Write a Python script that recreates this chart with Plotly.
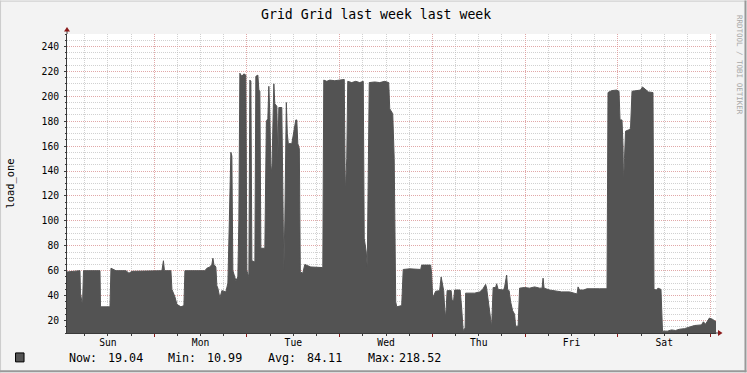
import plotly.graph_objects as go

# ---------------- data ----------------
# time in hours since Sunday 00:00, value = load_one
hours = [1.42, 4.53, 4.78, 4.91, 5.17, 5.43, 5.69, 9.96, 10.09, 12.54, 12.80, 14.09, 16.68, 17.46, 18.23,
         25.99, 26.38, 26.64, 28.32, 28.58, 29.35, 29.87, 30.90, 31.68, 31.94, 37.11, 37.63, 38.40, 38.92,
         39.18, 39.44, 39.95, 40.21, 40.47, 40.99, 41.51, 42.54, 43.06, 43.44, 43.83, 44.09, 44.35, 45.13,
         45.64, 45.90, 46.16, 46.68, 47.20, 47.71, 47.97, 48.49, 48.75, 49.01, 49.27, 50.05, 50.30, 50.82,
         51.08, 51.34, 51.60, 52.63, 53.02, 53.40, 53.66, 53.92, 54.18, 54.44, 54.70, 54.96, 55.21, 55.73,
         55.99, 56.25, 57.02, 57.28, 57.54, 57.80, 58.19, 58.44, 58.70, 59.61, 60.12, 60.64, 60.90, 61.16,
         61.55, 61.81, 62.45, 62.97, 63.75, 64.52, 67.63, 67.88, 68.66, 69.43, 70.73, 72.02, 73.18, 73.44,
         73.83, 74.09, 75.12, 76.15, 77.19, 78.10, 78.35, 78.87, 79.13, 79.65, 81.07, 82.36, 83.66, 84.69,
         84.95, 85.73, 86.11, 86.50, 86.76, 88.05, 88.44, 90.12, 92.97, 93.22, 95.55, 95.81, 96.06, 96.84,
         97.87, 98.26, 98.52, 98.91, 99.17, 99.43, 99.81, 100.85, 101.11, 101.49, 101.75, 103.18, 103.57,
         103.96, 104.47, 104.60, 106.93, 108.22, 108.99, 109.51, 109.77, 110.03, 110.55, 111.07, 111.33,
         111.72, 112.36, 112.62, 113.01, 114.43, 114.69, 115.21, 115.47, 115.85, 116.24, 116.76, 117.27,
         117.53, 118.18, 118.57, 119.86, 121.15, 122.45, 123.74, 124.39, 124.64, 124.90, 126.32, 127.88,
         129.43, 131.50, 133.44, 133.70, 134.09, 135.12, 136.02, 139.26, 141.19, 141.45, 142.35, 143.65,
         144.30, 144.56, 145.07, 145.33, 145.46, 145.72, 145.98, 146.75, 147.27, 147.66, 148.82, 149.86,
         150.37, 150.89, 151.92, 153.09, 153.35, 153.99, 154.38, 155.16, 155.55, 156.84, 157.88, 158.91,
         159.95, 161.24, 162.53, 163.82, 165.63, 166.15, 166.67, 167.18, 167.70, 168.48, 169.40]
load = [59, 59.5, 60, 42, 35, 32, 60, 60, 31, 31, 62, 60, 60, 58, 59.5,
        60, 68, 60, 60, 45, 39, 33, 31, 32, 60, 60, 62, 63, 65,
        70, 65, 63, 48, 46, 38, 44, 43, 50, 100, 155, 152, 60, 52,
        55, 100, 218.5, 216, 218, 217, 60, 55, 213, 212, 68, 67, 216, 217,
        205, 204, 78, 78, 180, 182, 208, 185, 145, 138, 190, 210, 194, 192,
        150, 191, 191, 100, 60, 100, 195, 170, 162, 162, 172, 181, 181, 162,
        158, 59, 58, 65, 64, 63, 62.5, 213, 212, 213, 212.5, 213, 213.5, 122,
        150, 212, 211, 212, 211, 212, 86, 75, 63, 211, 211.5, 211, 212, 211,
        190, 186, 150, 35, 31, 32, 61, 61.5, 61, 64.5, 64.5, 57, 38, 43.5,
        44, 55, 50, 44, 30, 22, 44, 44, 36, 36, 44.5, 44.5, 30,
        12, 14, 42, 42, 43, 45, 48, 49, 46, 35, 20, 15,
        46.5, 46.5, 49.5, 45, 44.5, 47, 56.5, 45, 44, 35, 28, 25,
        15.5, 15.5, 46, 46.5, 46, 47, 46, 46, 54, 46, 44.5, 44,
        43, 43, 41.3, 47, 44.5, 44.5, 45.5, 45.5, 45.5, 203, 204.5, 205,
        204, 181, 181, 160, 130, 150, 172, 173, 174, 204, 204.5, 205,
        207.5, 206, 203.5, 203, 45, 44.5, 46, 45, 11.5, 11.5, 12.5, 12,
        13, 13.5, 15, 16, 16.5, 19, 17, 19, 22, 21, 19.04]

day_names = ["Sun", "Mon", "Tue", "Wed", "Thu", "Fri", "Sat"]
day_noon = [12, 36, 60, 84, 108, 132, 156]
midnights = [24, 48, 72, 96, 120, 144, 168]
y_ticks = [20, 40, 60, 80, 100, 120, 140, 160, 180, 200, 220, 240]

title_text = "Grid Grid last week last week"
y_title = "load_one"
stat_labels = ["Now:", "Min:", "Avg:", "Max:"]
stat_values = ["19.04", "10.99", "84.11", "218.52"]
watermark = "RRDTOOL / TOBI OETIKER"

# ---------------- layout helpers (pixel -> paper) ----------------
W, H = 747, 373
L, R, T, B = 67, 716.5, 33.5, 333.5
PW, PH = R - L, B - T


def px(x):
    return (x - L) / PW


def py(y):
    return (B - y) / PH


MONO = "DejaVu Sans Mono"
AREA = "#535353"
MGRID = "rgba(235,140,140,0.6)"
GRID = "rgba(185,185,185,0.65)"
AXIS = "#3a3a3a"
ARROW = "#8B1A1A"

fig = go.Figure()
fig.add_trace(go.Scatter(x=hours, y=load, mode="lines", line=dict(color=AREA, width=1),
                         fill="tozeroy", fillcolor=AREA, hoverinfo="skip", showlegend=False))
fig.add_trace(go.Scatter(x=[], y=[], xaxis="x2", showlegend=False, hoverinfo="skip"))

fig.update_layout(
    width=W, height=H,
    margin=dict(l=L, r=W - R, t=T, b=H - B, pad=0),
    paper_bgcolor="#F3F3F3",
    plot_bgcolor="#FFFFFF",
    showlegend=False,
    font=dict(family=MONO, color="#000000"),
    xaxis=dict(
        range=[1.42, 169.4], tickmode="array", tickvals=day_noon, ticktext=day_names,
        showgrid=False, zeroline=False, ticks="", tickfont=dict(size=9.7, family=MONO),
        showline=True, linecolor=AXIS, linewidth=1,
        minor=dict(dtick=6, tick0=0, showgrid=True, gridcolor=GRID, griddash="1px,1px",
                   gridwidth=1, ticks="outside", ticklen=2, tickcolor=AXIS),
    ),
    xaxis2=dict(
        overlaying="x", matches="x", side="bottom", anchor="y",
        tickmode="array", tickvals=midnights, showticklabels=False,
        showgrid=True, gridcolor=MGRID, griddash="1px,1px", gridwidth=1,
        ticks="outside", ticklen=3, tickcolor=ARROW, zeroline=False, showline=False,
    ),
    yaxis=dict(
        range=[10, 250], tickmode="array", tickvals=y_ticks,
        showgrid=True, gridcolor=MGRID, griddash="1px,1px", gridwidth=1, zeroline=False,
        ticks="outside", ticklen=2, tickcolor=AXIS, tickfont=dict(size=9.7, family=MONO),
        ticklabelstandoff=3,
        showline=True, linecolor=AXIS, linewidth=1,
        minor=dict(dtick=5, tick0=0, showgrid=True, gridcolor=GRID, griddash="1px,1px",
                   gridwidth=1, ticks="outside", ticklen=1, tickcolor=AXIS),
    ),
)

shapes = []
# frame shading
shapes.append(dict(type="line", xref="paper", yref="paper", x0=px(0), x1=px(W), y0=py(0.5), y1=py(0.5),
                   line=dict(color="#CBCBCB", width=1)))
shapes.append(dict(type="line", xref="paper", yref="paper", x0=px(0.5), x1=px(0.5), y0=py(0), y1=py(H),
                   line=dict(color="#CBCBCB", width=1)))
shapes.append(dict(type="line", xref="paper", yref="paper", x0=px(W - 1), x1=px(W - 1), y0=py(0), y1=py(H),
                   line=dict(color="#999999", width=2)))
shapes.append(dict(type="line", xref="paper", yref="paper", x0=px(0), x1=px(W), y0=py(H - 1), y1=py(H - 1),
                   line=dict(color="#999999", width=2)))
# axis extensions + arrows
shapes.append(dict(type="line", xref="paper", yref="paper", x0=px(L), x1=px(L), y0=py(T), y1=py(30.5),
                   line=dict(color=AXIS, width=1)))
shapes.append(dict(type="line", xref="paper", yref="paper", x0=px(R), x1=px(718.5), y0=py(B), y1=py(B),
                   line=dict(color=AXIS, width=1)))
shapes.append(dict(type="path", xref="paper", yref="paper",
                   path=f"M {px(64)} {py(31)} L {px(70)} {py(31)} L {px(67)} {py(26.5)} Z",
                   fillcolor=ARROW, line=dict(color=ARROW, width=0)))
shapes.append(dict(type="path", xref="paper", yref="paper",
                   path=f"M {px(718.5)} {py(330.5)} L {px(718.5)} {py(336.5)} L {px(723)} {py(333.5)} Z",
                   fillcolor=ARROW, line=dict(color=ARROW, width=0)))
# legend swatch
shapes.append(dict(type="rect", xref="paper", yref="paper", x0=px(15.5), x1=px(24), y0=py(362.5), y1=py(353.5),
                   fillcolor=AREA, line=dict(color="#000000", width=1)))
fig.update_layout(shapes=shapes)

ann = []
ann.append(dict(text=title_text, x=px(376.3), y=py(14), xref="paper", yref="paper", showarrow=False,
                xanchor="center", yanchor="middle", font=dict(family=MONO, size=13.2, color="#000000")))
ann.append(dict(text=y_title, x=px(10), y=py(183.5), xref="paper", yref="paper", showarrow=False,
                textangle=-90, xanchor="center", yanchor="middle",
                font=dict(family=MONO, size=10.4, color="#000000")))
label_x = [67.5, 166.5, 266.5, 366.5]
value_right = [145.5, 244.5, 344.5, 443.5]
for lab, val, lx, vr in zip(stat_labels, stat_values, label_x, value_right):
    ann.append(dict(text=lab, x=px(lx), y=py(358.3), xref="paper", yref="paper", showarrow=False,
                    xanchor="left", yanchor="middle", font=dict(family=MONO, size=11.7, color="#000000")))
    ann.append(dict(text=val, x=px(vr), y=py(358.3), xref="paper", yref="paper", showarrow=False,
                    xanchor="right", yanchor="middle", font=dict(family=MONO, size=11.7, color="#000000")))
ann.append(dict(text=watermark, x=px(740), y=py(65), xref="paper", yref="paper", showarrow=False,
                textangle=90, xanchor="center", yanchor="middle",
                font=dict(family=MONO, size=7.5, color="#A8A8A8")))
fig.update_layout(annotations=ann)

fig.write_html("out.html")
